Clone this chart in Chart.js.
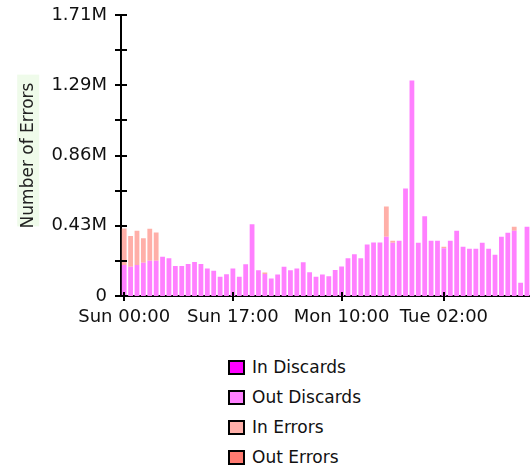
<!DOCTYPE html>
<html><head><meta charset="utf-8">
<script src="https://cdn.jsdelivr.net/npm/chart.js@4/dist/chart.umd.min.js"></script>
<style>
html,body{margin:0;padding:0;overflow:hidden;background:#fff;width:530px;height:470px}
#wrap{position:absolute;left:0;top:0;width:538px;height:340px}
#c{display:block}
#legend{position:absolute;left:228px;top:352px;font:17px "DejaVu Sans";color:#111}
.row{height:30px;display:flex;align-items:center}
.box{width:13px;height:11px;border:2px solid #000;margin-right:7px}
</style></head><body>
<div id="wrap"><canvas id="c" width="538" height="340"></canvas></div>
<div id="legend"></div>
<script>
const categories = [
 'Sun 00:00','Sun 01:00','Sun 02:00','Sun 03:00','Sun 04:00','Sun 05:00','Sun 06:00','Sun 07:00',
 'Sun 08:00','Sun 09:00','Sun 10:00','Sun 11:00','Sun 12:00','Sun 13:00','Sun 14:00','Sun 15:00',
 'Sun 16:00','Sun 17:00','Sun 18:00','Sun 19:00','Sun 20:00','Sun 21:00','Sun 22:00','Sun 23:00',
 'Mon 00:00','Mon 01:00','Mon 02:00','Mon 03:00','Mon 04:00','Mon 05:00','Mon 06:00','Mon 07:00',
 'Mon 08:00','Mon 09:00','Mon 10:00','Mon 11:00','Mon 12:00','Mon 13:00','Mon 14:00','Mon 15:00',
 'Mon 16:00','Mon 17:00','Mon 18:00','Mon 19:00','Mon 20:00','Mon 21:00','Mon 22:00','Mon 23:00',
 'Tue 00:00','Tue 01:00','Tue 02:00','Tue 03:00','Tue 04:00','Tue 05:00','Tue 06:00','Tue 07:00',
 'Tue 08:00','Tue 09:00','Tue 10:00','Tue 11:00','Tue 12:00','Tue 13:00','Tue 14:00','Tue 15:00'];
const tickLabels = ['Sun 00:00','Sun 17:00','Mon 10:00','Tue 02:00'];
const yTickValues = [0,213750,427500,641250,855000,1068750,1282500,1496250,1710000];
const yTickLabels = ['0','','0.43M','','0.86M','','1.29M','','1.71M'];

const inDiscards = [
 0,0,0,0,0,0,0,0,0,0, 0,0,0,0,0,0,0,0,0,0, 0,0,0,0,0,0,0,0,0,0, 0,0,0,0,0,0,0,0,0,0,
 0,0,0,0,0,0,0,0,0,0, 0,0,0,0,0,0,0,0,0,0, 0,0,0,0];
const outDiscards = [
 188000,178000,188000,202000,214000,214000,239000,229000,182000,182000,
 194000,207000,194000,168000,154000,117000,132000,168000,117000,193000,
 436000,156000,134000,106000,131000,178000,156000,168000,205000,144000,
 117000,131000,120000,158000,179000,229000,254000,229000,314000,326000,
 325000,360000,324000,336000,654000,1312000,324000,486000,336000,336000,
 290000,336000,397000,300000,287000,287000,324000,287000,251000,360000,
 385000,397000,81000,421000];
const inErrors = [
 223000,187000,209000,149000,195000,173000,0,0,0,0,
 0,0,0,0,0,0,0,0,0,0,
 0,0,9000,0,0,0,0,0,0,0,
 0,0,0,0,0,0,0,0,0,0,
 0,185000,12000,0,0,0,0,0,0,0,
 10000,0,0,0,0,0,0,0,0,0,
 0,24000,0,0];
const outErrors = [
 0,0,0,0,0,0,0,0,0,0, 0,0,0,0,0,0,0,0,0,0, 0,0,0,0,0,0,0,0,0,0, 0,0,0,0,0,0,0,0,0,0,
 0,0,0,0,0,0,0,0,0,0, 0,0,0,0,0,0,0,0,0,0, 0,0,0,0];

const FONT = 'DejaVu Sans';

const tickMarks = {
  id: 'tickMarks',
  afterDraw(chart) {
    const {ctx, scales: {x, y}, chartArea} = chart;
    ctx.save();
    ctx.strokeStyle = '#000';
    ctx.lineWidth = 2;
    const ax = chartArea.left;
    y.ticks.forEach(t => {
      const py = Math.round(y.getPixelForValue(t.value));
      ctx.beginPath(); ctx.moveTo(ax - 6, py); ctx.lineTo(ax + 6, py); ctx.stroke();
    });
    const by = chartArea.bottom;
    categories.forEach((c, i) => {
      if (tickLabels.includes(c)) {
        const px = Math.round(x.getPixelForValue(i));
        ctx.beginPath(); ctx.moveTo(px, by - 4); ctx.lineTo(px, by + 5); ctx.stroke();
      }
    });
    ctx.restore();
  }
};

const titleBg = {
  id: 'titleBg',
  beforeDraw(chart) {
    const {ctx, scales: {y}, chartArea} = chart;
    ctx.save();
    ctx.font = '17px "' + FONT + '"';
    const w = ctx.measureText(y.options.title.text).width;
    const cx = y.left + 18 + 10.2;
    const cy = (chartArea.top + chartArea.bottom) / 2 - 5;
    ctx.fillStyle = '#EFFBEA';
    ctx.fillRect(cx - 11, cy - w / 2 - 3, 22, w + 6);
    ctx.restore();
  }
};

const chart = new Chart(document.getElementById('c'), {
  type: 'bar',
  data: {
    labels: categories,
    datasets: [
      {label: 'In Discards', data: inDiscards, backgroundColor: '#FF00FF'},
      {label: 'Out Discards', data: outDiscards, backgroundColor: '#FF80FF'},
      {label: 'In Errors', data: inErrors, backgroundColor: '#FFAFA8'},
      {label: 'Out Errors', data: outErrors, backgroundColor: '#FF7A70'}
    ]
  },
  options: {
    responsive: false,
    animation: false,
    devicePixelRatio: 1,
    layout: {padding: {top: 15, left: 0, right: 0, bottom: 0}},
    datasets: {bar: {categoryPercentage: 1, barPercentage: 0.75, borderWidth: 0}},
    plugins: {legend: {display: false}, tooltip: {enabled: false}},
    scales: {
      x: {
        stacked: true,
        grid: {display: false, drawTicks: false},
        border: {display: true, color: '#000', width: 2},
        ticks: {
          autoSkip: false, maxRotation: 0, minRotation: 0, padding: 11, color: '#111',
          font: {family: FONT, size: 18},
          callback: function (v, i) { const l = categories[i]; return tickLabels.includes(l) ? l : ''; }
        },
        afterFit: s => { s.height = 44; }
      },
      y: {
        stacked: true, min: 0, max: 1710000,
        afterBuildTicks: s => { s.ticks = yTickValues.map(v => ({value: v})); },
        grid: {display: false, drawTicks: false},
        border: {display: true, color: '#000', width: 2},
        ticks: {
          padding: 14, color: '#111', font: {family: FONT, size: 18}, autoSkip: false,
          callback: (v, i) => yTickLabels[i]
        },
        title: {display: true, text: 'Number of Errors', color: '#222',
                font: {family: FONT, size: 17}, padding: {top: 18, bottom: 0}},
        afterFit: s => { s.width = 121; s.paddingTop = 0; s.paddingBottom = 0; }
      }
    }
  },
  plugins: [titleBg, tickMarks]
});

const leg = document.getElementById('legend');
chart.data.datasets.forEach(ds => {
  const row = document.createElement('div'); row.className = 'row';
  const b = document.createElement('div'); b.className = 'box'; b.style.background = ds.backgroundColor;
  const t = document.createElement('span'); t.textContent = ds.label;
  row.appendChild(b); row.appendChild(t); leg.appendChild(row);
});
</script>
</body></html>
